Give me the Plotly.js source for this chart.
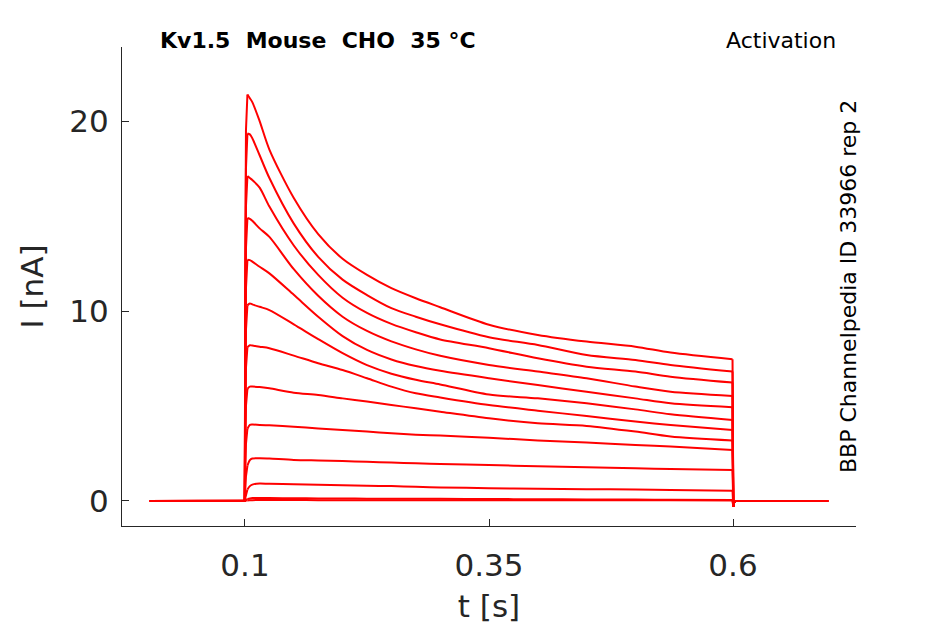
<!DOCTYPE html>
<html>
<head>
<meta charset="utf-8">
<script src="https://cdn.plot.ly/plotly-3.0.1.min.js"></script>
<style>
  body { margin: 0; background: #fff; }
  #plot { width: 945px; height: 624px; }
</style>
</head>
<body>
<div id="plot"></div>
<script>
// sample times [s], shared by every sweep
const tSec = [0.0025, 0.0998, 0.1003, 0.101, 0.1025, 0.105, 0.1075, 0.115, 0.125,
  0.15, 0.175, 0.2, 0.225, 0.25, 0.275, 0.3, 0.35, 0.4, 0.45, 0.5, 0.536, 0.5995,
  0.6003, 0.601, 0.603, 0.6975];

// current [nA] per sweep during the step (up to t = 0.5995)
const sweep1  = [0, 0, 12.0, 19.5, 21.4, 21.2, 21.0, 20.0, 18.5, 15.95, 14.05, 12.75, 11.9, 11.2, 10.67, 10.2, 9.28, 8.74, 8.39, 8.12, 7.81, 7.46];
const sweep2  = [0, 0, 11.0, 17.5, 19.35, 19.3, 19.1, 18.2, 17.0, 14.6, 12.85, 11.65, 10.84, 10.15, 9.7, 9.3, 8.62, 8.21, 7.68, 7.42, 7.16, 6.81];
const sweep3  = [0, 0, 9.5, 15.5, 17.1, 17.0, 16.9, 16.5, 15.5, 13.45, 11.9, 10.7, 9.9, 9.32, 8.88, 8.5, 8.04, 7.51, 7.07, 6.81, 6.54, 6.23];
const sweep4  = [0, 0, 8.0, 13.3, 14.9, 14.85, 14.75, 14.35, 13.9, 12.2, 10.8, 9.7, 8.95, 8.4, 7.98, 7.64, 7.16, 6.81, 6.46, 6.02, 5.75, 5.53];
const sweep5  = [0, 0, 6.5, 11.2, 12.7, 12.68, 12.6, 12.33, 11.98, 10.85, 9.7, 8.68, 7.95, 7.45, 7.1, 6.85, 6.46, 6.1, 5.75, 5.4, 5.14, 4.93];
const sweep6  = [0, 0, 5.0, 9.0, 10.3, 10.4, 10.35, 10.22, 10.05, 9.3, 8.52, 7.78, 7.15, 6.7, 6.38, 6.13, 5.6, 5.4, 5.14, 4.82, 4.56, 4.26];
const sweep7  = [0, 0, 3.8, 7.0, 8.1, 8.2, 8.18, 8.12, 8.04, 7.65, 7.25, 6.89, 6.46, 6.02, 5.67, 5.45, 5.05, 4.75, 4.47, 4.18, 4.0, 3.74];
const sweep8  = [0, 0, 2.8, 5.0, 5.9, 6.02, 6.02, 6.0, 5.93, 5.7, 5.58, 5.4, 5.23, 5.05, 4.88, 4.7, 4.35, 4.09, 3.95, 3.65, 3.39, 3.18];
const sweep9  = [0, 0, 1.6, 3.0, 3.8, 4.0, 4.02, 4.0, 3.98, 3.91, 3.82, 3.74, 3.65, 3.56, 3.49, 3.44, 3.33, 3.18, 3.07, 2.95, 2.86, 2.68];
const sweep10 = [0, 0, 0.6, 1.3, 1.85, 2.15, 2.23, 2.25, 2.23, 2.16, 2.13, 2.1, 2.06, 2.02, 1.98, 1.94, 1.89, 1.82, 1.77, 1.72, 1.68, 1.63];
const sweep11 = [0, 0, 0.15, 0.35, 0.6, 0.78, 0.86, 0.92, 0.9, 0.88, 0.85, 0.83, 0.8, 0.78, 0.74, 0.71, 0.67, 0.64, 0.62, 0.6, 0.58, 0.54];
const sweep12 = [0, 0, 0.02, 0.06, 0.1, 0.13, 0.15, 0.16, 0.15, 0.14, 0.13, 0.13, 0.12, 0.12, 0.11, 0.11, 0.1, 0.09, 0.08, 0.07, 0.06, 0.05];
const sweep13 = [0, 0, 0, 0.01, 0.02, 0.03, 0.04, 0.05, 0.05, 0.05, 0.04, 0.04, 0.04, 0.04, 0.04, 0.04, 0.03, 0.03, 0.03, 0.03, 0.03, 0.02];

// tail current after the step returns (t = 0.6003 .. 0.6975)
const tailI = [-0.3, -0.08, 0, 0];

const sweeps = [sweep1, sweep2, sweep3, sweep4, sweep5, sweep6, sweep7,
  sweep8, sweep9, sweep10, sweep11, sweep12, sweep13];

const xTicks = [0.1, 0.35, 0.6];
const yTicks = [0, 10, 20];

const axisCol = '#262626';
const fontFam = 'DejaVu Sans, sans-serif';

// index of the peak sample and of the last sample before the step ends
const iPeak = 4;
const iEnd = 21;

function piece(x, y, shape) {
  return {
    type: 'scatter',
    mode: 'lines',
    x: x,
    y: y,
    line: shape == 'spline'
      ? {color: '#ff0000', width: 2, shape: 'spline', smoothing: 0.8}
      : {color: '#ff0000', width: 2},
    hoverinfo: 'skip',
    showlegend: false
  };
}

let data = [];
for (let s of sweeps) {
  let y = s.concat(tailI);
  // baseline + rise: straight segments
  data.push(piece(tSec.slice(0, iPeak + 1), y.slice(0, iPeak + 1), 'linear'));
  // decay during the step: smooth
  data.push(piece(tSec.slice(iPeak, iEnd + 1), y.slice(iPeak, iEnd + 1), 'spline'));
  // step off + tail: straight segments
  data.push(piece(tSec.slice(iEnd), y.slice(iEnd), 'linear'));
}

let layout = {
  width: 945,
  height: 624,
  margin: {l: 122, r: 89, t: 47, b: 98},
  paper_bgcolor: '#ffffff',
  plot_bgcolor: '#ffffff',
  showlegend: false,
  font: {family: fontFam, color: axisCol},
  xaxis: {
    range: [-0.026, 0.726],
    tickvals: xTicks,
    ticktext: xTicks.map(String),
    ticks: 'inside',
    ticklen: 7,
    tickcolor: axisCol,
    showline: true,
    linecolor: axisCol,
    linewidth: 1,
    showgrid: false,
    zeroline: false,
    ticklabelstandoff: 12,
    tickfont: {size: 31, color: axisCol},
    title: {text: 't [s]', font: {size: 31, color: axisCol}, standoff: 16}
  },
  yaxis: {
    range: [-1.32, 23.9],
    tickvals: yTicks,
    ticks: 'inside',
    ticklen: 7,
    tickcolor: axisCol,
    showline: true,
    linecolor: axisCol,
    linewidth: 1,
    showgrid: false,
    zeroline: false,
    ticklabelstandoff: 6,
    tickfont: {size: 31, color: axisCol},
    title: {text: 'I [nA]', font: {size: 31, color: axisCol}, standoff: 16}
  },
  annotations: [
    {
      text: '<b>Kv1.5\u00a0\u00a0Mouse\u00a0\u00a0CHO\u00a0\u00a035 °C</b>',
      xref: 'paper', yref: 'paper', x: 0.049, y: 1.0146,
      xanchor: 'left', yanchor: 'middle', showarrow: false,
      font: {size: 22, color: '#000000', family: fontFam}
    },
    {
      text: 'Activation',
      xref: 'paper', yref: 'paper', x: 0.9755, y: 1.0146,
      xanchor: 'right', yanchor: 'middle', showarrow: false,
      font: {size: 22, color: '#000000', family: fontFam}
    },
    {
      text: 'BBP Channelpedia ID 33966 rep 2',
      xref: 'paper', yref: 'paper', x: 0.9905, y: 0.499,
      xanchor: 'center', yanchor: 'middle', showarrow: false,
      textangle: -90,
      font: {size: 22, color: '#000000', family: fontFam}
    }
  ]
};

Plotly.newPlot('plot', data, layout, {staticPlot: true, displayModeBar: false});
</script>
</body>
</html>
